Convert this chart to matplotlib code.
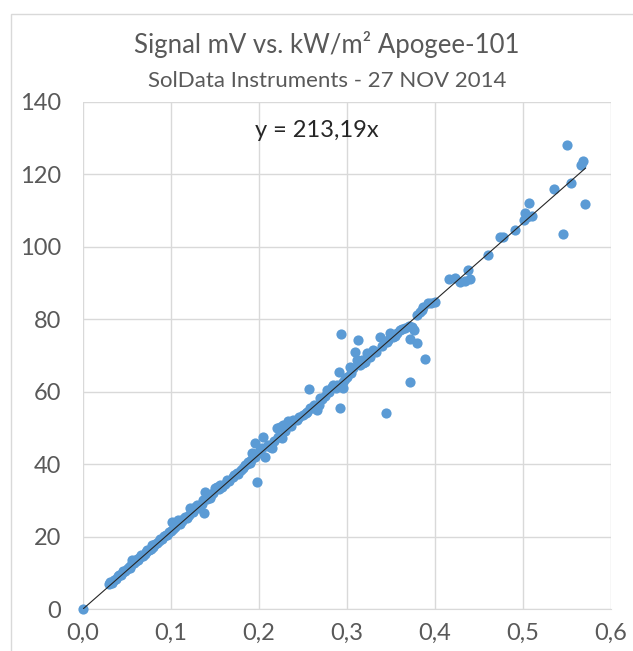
import matplotlib
matplotlib.use('Agg')
import matplotlib.pyplot as plt
from matplotlib.patches import Rectangle
import numpy as np

plt.rcParams['font.family'] = ['Lato', 'DejaVu Sans']

# irradiance kW/m2 and signal mV
irradiance = [0.0,
    0.030, 0.031, 0.033, 0.035, 0.037, 0.040, 0.041, 0.043, 0.045, 0.046,
    0.048, 0.050, 0.052, 0.053, 0.055, 0.056, 0.058, 0.060, 0.061, 0.063,
    0.065, 0.066, 0.068, 0.070, 0.072, 0.073, 0.075, 0.077, 0.078, 0.080,
    0.082, 0.084, 0.086, 0.088, 0.090, 0.092, 0.094, 0.096, 0.098, 0.100,
    0.101, 0.102, 0.104, 0.107, 0.108, 0.110, 0.112, 0.114, 0.116, 0.118,
    0.120, 0.122, 0.125, 0.127, 0.130, 0.132, 0.135, 0.136, 0.138, 0.139,
    0.141, 0.144, 0.146, 0.148, 0.150, 0.152, 0.155, 0.156, 0.158, 0.161,
    0.164, 0.166, 0.170, 0.172, 0.175, 0.176, 0.179, 0.182, 0.184, 0.186,
    0.188, 0.190, 0.191, 0.192, 0.195, 0.196, 0.198, 0.199, 0.201, 0.203,
    0.205, 0.207, 0.210, 0.212, 0.215, 0.217, 0.220, 0.222, 0.224, 0.226,
    0.227, 0.230, 0.233, 0.236, 0.239, 0.243, 0.246, 0.250, 0.253, 0.255,
    0.257, 0.258, 0.260, 0.263, 0.266, 0.268, 0.269, 0.272, 0.275, 0.277,
    0.280, 0.283, 0.284, 0.287, 0.289, 0.291, 0.292, 0.293, 0.295, 0.296,
    0.298, 0.300, 0.303, 0.305, 0.307, 0.309, 0.311, 0.3125, 0.315, 0.317,
    0.318, 0.320, 0.323, 0.326, 0.330, 0.333, 0.3375, 0.340, 0.344, 0.345,
    0.347, 0.349, 0.352, 0.355, 0.357, 0.360, 0.363, 0.366, 0.370, 0.372,
    0.372, 0.374, 0.376, 0.380, 0.380, 0.383, 0.385, 0.386, 0.389, 0.392,
    0.396, 0.400,
    0.416, 0.423, 0.428, 0.434, 0.437, 0.440, 0.460, 0.474, 0.477, 0.491,
    0.501, 0.504, 0.502, 0.510, 0.507, 0.535, 0.545, 0.550, 0.555, 0.566,
    0.568, 0.571]

signal = [0.0,
    6.8, 7.5, 7.2, 8.0, 8.4, 9.0, 9.3, 9.5, 10.1, 10.5,
    10.4, 11.0, 11.6, 11.3, 12.1, 13.5, 12.6, 13.2, 13.8, 13.6,
    14.3, 14.9, 14.6, 15.2, 15.8, 16.4, 16.2, 16.6, 17.6, 17.2,
    17.9, 18.3, 18.8, 19.4, 19.2, 20.1, 20.5, 20.3, 21.4, 21.6,
    24.0, 22.1, 22.6, 23.4, 24.6, 23.6, 24.3, 24.9, 25.5, 25.2,
    26.0, 27.9, 26.8, 28.2, 28.7, 28.0, 29.1, 30.1, 26.6, 32.3,
    30.4, 30.7, 31.5, 32.0, 33.4, 33.7, 33.0, 34.2, 33.8, 34.5,
    35.6, 35.3, 36.4, 36.9, 37.6, 37.3, 38.4, 38.9, 39.8, 40.0,
    40.6, 40.3, 41.2, 43.1, 45.8, 42.0, 35.1, 43.1, 43.9, 44.4,
    47.5, 42.0, 45.3, 44.8, 44.5, 46.4, 50.0, 47.4, 50.3, 47.2,
    50.8, 49.2, 51.9, 50.4, 52.2, 52.2, 53.0, 53.6, 54.0, 54.4,
    60.8, 55.6, 55.5, 56.2, 55.0, 56.3, 58.3, 58.0, 58.8, 60.5,
    59.8, 61.3, 61.9, 61.0, 61.9, 65.5, 55.5, 76.0, 62.7, 61.0,
    63.5, 64.0, 66.8, 65.2, 66.6, 71.0, 68.8, 74.3, 67.5, 68.8,
    67.9, 68.3, 70.7, 69.6, 71.5, 71.0, 75.1, 72.5, 54.1, 73.6,
    74.3, 76.2, 75.0, 75.5, 76.2, 77.0, 77.4, 77.6, 78.2, 62.7,
    74.6, 77.9, 77.0, 73.5, 81.2, 82.0, 82.5, 83.4, 69.0, 84.5,
    84.4, 84.8,
    91.1, 91.4, 90.3, 90.6, 93.6, 91.1, 97.8, 102.7, 102.7, 104.7,
    107.4, 108.2, 109.4, 108.5, 112.1, 116.0, 103.6, 128.1, 117.6, 122.6,
    123.7, 111.8]

slope = 213.19
x_ticks = [0.0, 0.1, 0.2, 0.3, 0.4, 0.5, 0.6]
y_ticks = [0, 20, 40, 60, 80, 100, 120, 140]

fig = plt.figure(figsize=(6.33, 6.51), dpi=100)
fig.patches.append(Rectangle((11/633, -0.1), 1.2, 1 - 14/651 + 0.1, transform=fig.transFigure,
                             fill=False, edgecolor='#d9d9d9', linewidth=1))

ax = fig.add_axes([83/633, 42/651, 528/633, 507/651])
ax.scatter(irradiance, signal, s=54, color='#5b9bd5', linewidths=0, zorder=3, clip_on=False)

xl = np.array([0, max(irradiance)])
ax.plot(xl, slope * xl, color='#262626', linewidth=0.8, zorder=4)

ax.text(0.195, 132, 'y = 213,19x', fontsize=17, color='#262626', va='center')

ax.set_xlim(0, 0.6)
ax.set_ylim(0, 140)
ax.set_xticks(x_ticks)
ax.set_xticklabels([('%.1f' % v).replace('.', ',') for v in x_ticks])
ax.set_yticks(y_ticks)
ax.grid(True, color='#d9d9d9', linewidth=1)
ax.set_axisbelow(True)
for s in ['top', 'right', 'left']:
    ax.spines[s].set_visible(False)
ax.spines['bottom'].set_color('#d9d9d9')
ax.tick_params(length=0, labelsize=17, labelcolor='#595959')
ax.tick_params(axis='x', pad=10)
ax.tick_params(axis='y', pad=16)

fig.text(327/633, 1 - 44/651, 'Signal mV vs. kW/m² Apogee-101', ha='center', va='center',
         fontsize=18.5, color='#595959')
fig.text(327/633, 1 - 81/651, 'SolData Instruments - 27 NOV 2014', ha='center', va='center',
         fontsize=16, color='#595959')

fig.savefig('out.png', dpi=100)
